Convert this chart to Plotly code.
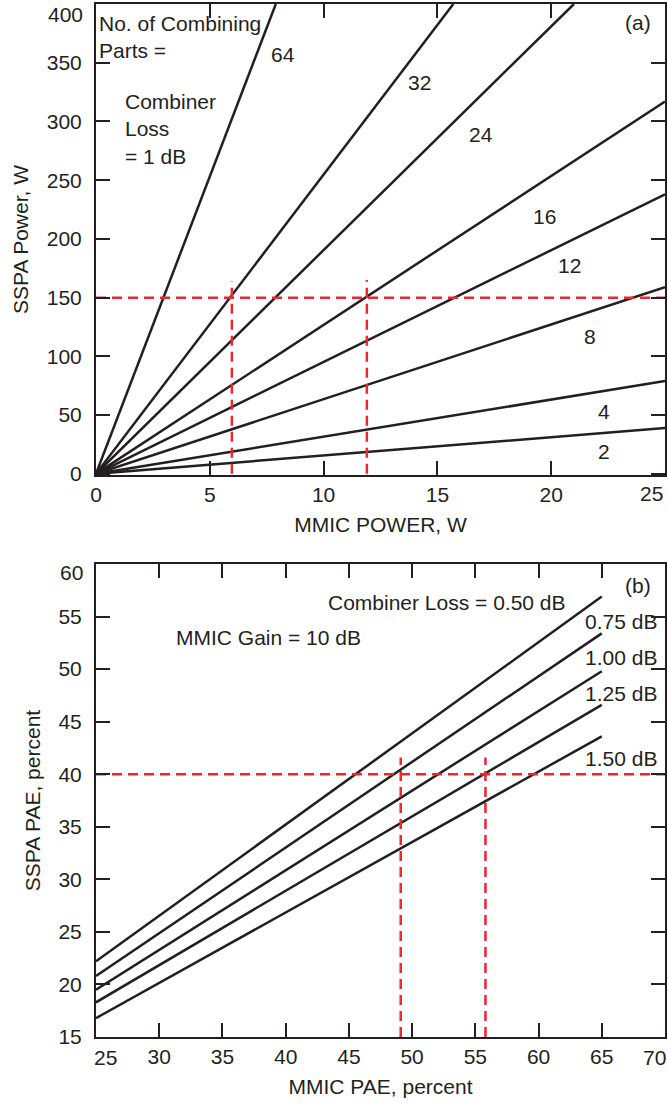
import plotly.graph_objects as go

# ---------------- data ----------------
# Panel (a): SSPA power vs MMIC power, combiner loss = 1 dB
parts_labels = ["64", "32", "24", "16", "12", "8", "4", "2"]
parts_end_x = [7.9, 15.7, 21.0, 25.0, 25.0, 25.0, 25.0, 25.0]      # MMIC power, W
parts_end_y = [400.0, 400.0, 400.0, 317.0, 238.0, 159.0, 79.0, 39.0]  # SSPA power, W
parts_label_x = [8.2, 14.2, 16.9, 19.7, 20.8, 21.7, 22.3, 22.3]
parts_label_y = [357, 333, 289, 219, 177, 117, 53, 19]

a_ref_h_y = 150.0
a_ref_v_x = [5.97, 11.9]
a_ref_v_top = [164.0, 165.0]

a_xticks = [0, 5, 10, 15, 20, 25]
a_yticks = [0, 50, 100, 150, 200, 250, 300, 350, 400]

# Panel (b): SSPA PAE vs MMIC PAE, MMIC gain = 10 dB
loss_labels = ["0.50 dB", "0.75 dB", "1.00 dB", "1.25 dB", "1.50 dB"]
mmic_pae = [25, 65]
sspa_pae = [
    [22.2, 56.9],
    [20.8, 53.4],
    [19.5, 49.8],
    [18.3, 46.6],
    [16.8, 43.6],
]
loss_label_y = [56.3, 54.5, 51.15, 47.7, 41.5]

b_ref_h_y = 40.0
b_ref_v_x = [49.1, 55.8]
b_ref_v_top = 41.6

b_xticks = [25, 30, 35, 40, 45, 50, 55, 60, 65, 70]
b_yticks = [15, 20, 25, 30, 35, 40, 45, 50, 55, 60]

# ---------------- style ----------------
INK = "#231f20"
RED = "#ec2730"
FONT = "Liberation Sans, Arial, Helvetica, sans-serif"
FS = 21
LW = 2.5

W, H = 668, 1103
ML, MR, MT, MB = 96, 1, 4, 66
ph = H - MT - MB
top_dom = [(H - MB - 475) / ph, 1.0]
bot_dom = [0.0, (H - MB - 564) / ph]

fig = go.Figure()

# Panel (a) lines
for lab, ex, ey in zip(parts_labels, parts_end_x, parts_end_y):
    fig.add_trace(go.Scatter(x=[0, ex], y=[0, ey], mode="lines",
                             line=dict(color=INK, width=LW),
                             xaxis="x", yaxis="y", showlegend=False, name=lab))
# Panel (a) red dashed guides
fig.add_trace(go.Scatter(x=[0, 25], y=[a_ref_h_y, a_ref_h_y], mode="lines",
                         line=dict(color=RED, width=2.5, dash="10px,6px"),
                         xaxis="x", yaxis="y", showlegend=False))
for vx, vt in zip(a_ref_v_x, a_ref_v_top):
    fig.add_trace(go.Scatter(x=[vx, vx], y=[0, vt], mode="lines",
                             line=dict(color=RED, width=2.5, dash="10px,6px"),
                             xaxis="x", yaxis="y", showlegend=False))

# Panel (b) lines
for lab, ys in zip(loss_labels, sspa_pae):
    fig.add_trace(go.Scatter(x=mmic_pae, y=ys, mode="lines",
                             line=dict(color=INK, width=LW),
                             xaxis="x2", yaxis="y2", showlegend=False, name=lab))
fig.add_trace(go.Scatter(x=[25, 70], y=[b_ref_h_y, b_ref_h_y], mode="lines",
                         line=dict(color=RED, width=2.5, dash="10px,6px"),
                         xaxis="x2", yaxis="y2", showlegend=False))
for vx in b_ref_v_x:
    fig.add_trace(go.Scatter(x=[vx, vx], y=[15, b_ref_v_top], mode="lines",
                             line=dict(color=RED, width=2.5, dash="10px,6px"),
                             xaxis="x2", yaxis="y2", showlegend=False))


def axis(rng, ticks, dom, anchor, title, standoff, lstand, hide=()):
    return dict(
        range=rng, domain=dom, anchor=anchor,
        tickmode="array", tickvals=ticks,
        ticktext=["" if t in hide else str(t) for t in ticks],
        ticks="inside", ticklen=14, tickwidth=1.5, tickcolor=INK,
        showline=True, linewidth=2, linecolor=INK, mirror="ticks",
        showgrid=False, zeroline=False,
        tickfont=dict(family=FONT, size=FS, color=INK),
        ticklabelstandoff=lstand,
        title=dict(text=title, font=dict(family=FONT, size=FS, color=INK), standoff=standoff),
    )


fig.update_layout(
    width=W, height=H,
    margin=dict(l=ML, r=MR, t=MT, b=MB),
    paper_bgcolor="white", plot_bgcolor="white",
    xaxis=axis([0, 25], a_xticks, [0, 1], "y", "MMIC POWER, W", 12, 0, hide=(25,)),
    yaxis=axis([-1, 400], a_yticks, top_dom, "x", "SSPA Power, W", 12, 8, hide=(400,)),
    xaxis2=axis([25, 70], b_xticks, [0, 1], "y2", "MMIC PAE, percent", 12, 0, hide=(25, 70)),
    yaxis2=axis([15, 60], b_yticks, bot_dom, "x2", "SSPA PAE, percent", 12, 8, hide=(60,)),
)

ann = []
tf = dict(family=FONT, size=FS, color=INK)
# shifted end tick labels
ann.append(dict(x=a_xticks[-1], y=0, xref="x", yref="y", text=str(a_xticks[-1]),
                xanchor="right", yanchor="middle", yshift=-20, showarrow=False, font=tf))
ann.append(dict(x=0, y=a_yticks[-1], xref="x", yref="y", text=str(a_yticks[-1]),
                xanchor="right", yanchor="middle", xshift=-11, yshift=-10, showarrow=False, font=tf))
ann.append(dict(x=b_xticks[0], y=15, xref="x2", yref="y2", text=str(b_xticks[0]),
                xanchor="center", yanchor="middle", xshift=9, yshift=-20, showarrow=False, font=tf))
ann.append(dict(x=b_xticks[-1], y=15, xref="x2", yref="y2", text=str(b_xticks[-1]),
                xanchor="center", yanchor="middle", xshift=-11, yshift=-20, showarrow=False, font=tf))
ann.append(dict(x=25, y=b_yticks[-1], xref="x2", yref="y2", text=str(b_yticks[-1]),
                xanchor="right", yanchor="middle", xshift=-11, yshift=-8, showarrow=False, font=tf))

# panel (a) texts
ann.append(dict(x=0.05, y=371.5, xref="x", yref="y", text="No. of Combining<br>Parts =",
                xanchor="left", yanchor="middle", align="left", showarrow=False, font=tf))
ann.append(dict(x=1.2, y=294, xref="x", yref="y", text="Combiner<br>Loss<br>= 1 dB",
                xanchor="left", yanchor="middle", align="left", showarrow=False, font=tf))
for lab, lx, ly in zip(parts_labels, parts_label_x, parts_label_y):
    ann.append(dict(x=lx, y=ly, xref="x", yref="y", text=lab, xanchor="center",
                    yanchor="middle", showarrow=False, font=tf))
ann.append(dict(x=23.8, y=384, xref="x", yref="y", text="(a)", xanchor="center",
                yanchor="middle", showarrow=False, font=tf))

# panel (b) texts
ann.append(dict(x=43.2, y=56.3, xref="x2", yref="y2", text="Combiner Loss = " + loss_labels[0],
                xanchor="left", yanchor="middle", showarrow=False, font=tf))
ann.append(dict(x=31.15, y=53.05, xref="x2", yref="y2", text="MMIC Gain = 10 dB",
                xanchor="left", yanchor="middle", showarrow=False, font=tf))
ann.append(dict(x=67.9, y=58.0, xref="x2", yref="y2", text="(b)",
                xanchor="center", yanchor="middle", showarrow=False, font=tf))
for lab, ly in zip(loss_labels[1:], loss_label_y[1:]):
    ann.append(dict(x=63.55, y=ly, xref="x2", yref="y2", text=lab,
                    xanchor="left", yanchor="middle", showarrow=False, font=tf))

fig.update_layout(annotations=ann)

fig.write_html("out.html")
